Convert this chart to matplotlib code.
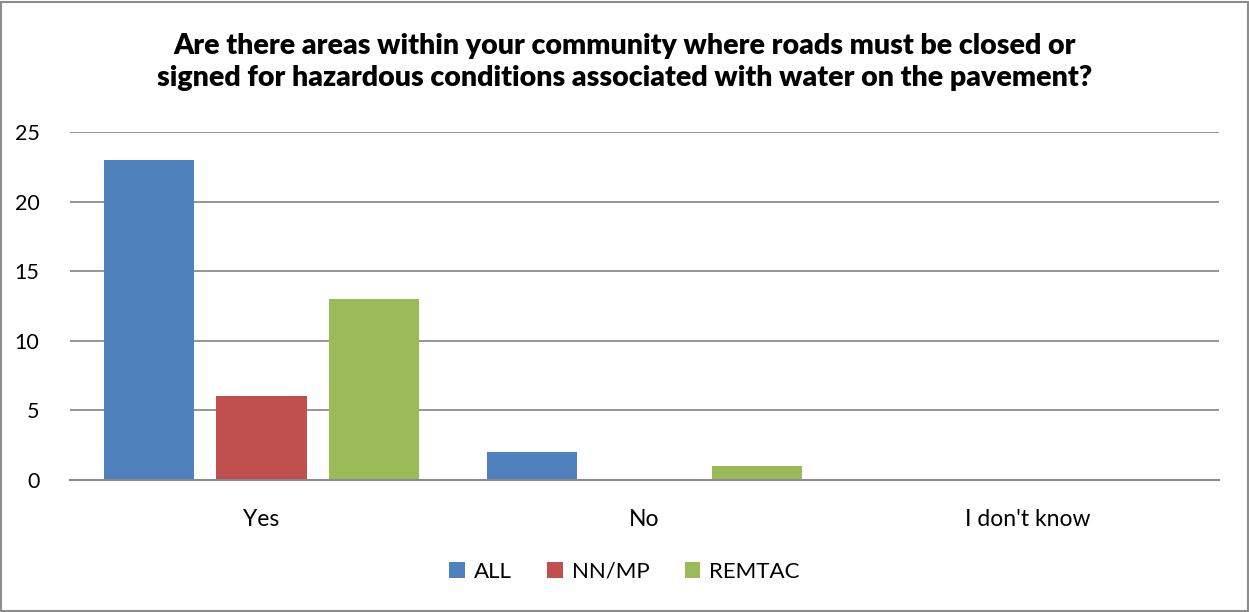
import matplotlib
matplotlib.use("Agg")
import matplotlib.pyplot as plt
import numpy as np

plt.rcParams['font.family'] = ['Lato', 'DejaVu Sans']

categories = ["Yes", "No", "I don't know"]
series_names = ["ALL", "NN/MP", "REMTAC"]
all_vals = [23, 2, 0]
nnmp_vals = [6, 0, 0]
remtac_vals = [13, 1, 0]
colors = ["#4F81BD", "#C0504D", "#9BBB59"]
yticks = [0, 5, 10, 15, 20, 25]
title = ("Are there areas within your community where roads must be closed or\n"
         "signed for hazardous conditions associated with water on the pavement?")

W, H = 1249, 612
fig = plt.figure(figsize=(W / 100, H / 100), dpi=100)
ax = fig.add_axes([70 / W, 1 - 480 / H, (1219 - 70) / W, (480 - 132) / H])

x = np.arange(len(categories))
width = 0.235
step = 0.2945
for i, (vals, name) in enumerate(zip([all_vals, nnmp_vals, remtac_vals], series_names)):
    ax.bar(x + (i - 1) * step, vals, width, color=colors[i], label=name, zorder=3)

ax.set_xlim(-0.5, len(categories) - 0.5)
ax.set_ylim(0, 25)
ax.set_yticks(yticks)
ax.set_yticklabels([str(v) for v in yticks], fontsize=15.5)
ax.set_xticks(x)
ax.set_xticklabels(categories, fontsize=16.5)
ax.tick_params(axis='both', length=0)
ax.tick_params(axis='y', pad=22)
ax.tick_params(axis='x', pad=21)
ax.yaxis.grid(True, color="#8C8C8C", linewidth=1.3, zorder=0)
for s in ['top', 'right', 'left']:
    ax.spines[s].set_visible(False)
ax.spines['bottom'].set_color("#8C8C8C")
ax.spines['bottom'].set_linewidth(1.5)
ax.spines['bottom'].set_zorder(4)

fig.text(0.5, 1 - 62 / H, title, ha='center', va='center', fontsize=20.5,
         fontweight='heavy', linespacing=1.3)

leg = fig.legend(loc='center', bbox_to_anchor=(0.5, 1 - 572 / H), ncol=3, frameon=False,
                 fontsize=16, handlelength=0.7, handleheight=0.7, handletextpad=0.4,
                 columnspacing=1.6)

border = plt.Rectangle((1 / W, 1 / H), 1 - 2.5 / W, 1 - 2.5 / H, transform=fig.transFigure,
                       fill=False, edgecolor="#8C8C8C", linewidth=1.5)
fig.patches.append(border)

fig.savefig("out.png", dpi=100)
